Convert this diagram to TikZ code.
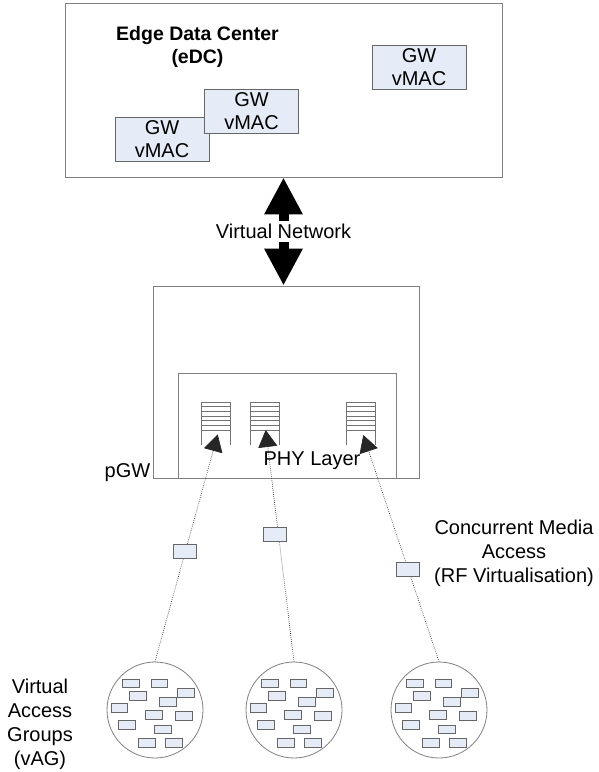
\documentclass[tikz,border=0pt]{standalone}
\usepackage{fontspec}
\setmainfont{Liberation Sans}
\usetikzlibrary{arrows.meta}
\definecolor{boxgray}{HTML}{808080}
\definecolor{lightblue}{HTML}{E6ECF7}
\definecolor{rectgray}{HTML}{666666}
\definecolor{headgray}{HTML}{262626}
\tikzset{
  stackline/.style={draw=black!55, line width=0.7pt},
  stack/.pic={
    \foreach \i in {0,...,6} \draw[stackline] (0,\i*4.7) -- (29,\i*4.7);
    \draw[stackline] (0,0) -- (0,43) (29,0) -- (29,43);
  }
}
\begin{document}
\begin{tikzpicture}[x=1pt,y=-1pt,
  txt/.style={font=\fontsize{20}{24}\selectfont, inner sep=0pt, align=center},
  bigbox/.style={draw=boxgray, line width=0.9pt, fill=white, inner sep=0pt},
  gwbox/.style={draw=rectgray, line width=1pt, fill=lightblue, font=\fontsize{20}{23}\selectfont, align=center, inner sep=0pt, minimum width=94pt, minimum height=44pt},
  chip/.style={draw=rectgray, line width=0.9pt, fill=lightblue, inner sep=0pt, minimum width=16.5pt, minimum height=8.5pt},
  link/.style={draw=rectgray, line width=0.9pt, fill=lightblue, inner sep=0pt, minimum width=23pt, minimum height=14pt},
  group/.style={circle, draw=boxgray, line width=0.8pt, fill=white, minimum size=96pt, inner sep=0pt},
  radio/.style={dash pattern=on 0.7pt off 1.3pt, draw=black!80, line width=0.7pt, -{Triangle[width=19pt,length=17pt,color=headgray,fill=headgray]}},
  vnet/.style={line width=10pt, {Triangle[width=36pt,length=37pt]}-{Triangle[width=36pt,length=37pt]}},
]
\useasboundingbox (0,0) rectangle (599,772);

% Edge data center
\node[bigbox, minimum width=437pt, minimum height=174pt] (edc) at (283.5,90) {};
\node[txt, font=\fontsize{19.5}{23}\selectfont\bfseries] (title) at (197.5,46.8) {Edge Data Center\\(eDC)};
\node[gwbox] (gw1) at (162,139.5) {GW\\vMAC};
\node[gwbox] (gw2) at (251.5,111.5) {GW\\vMAC};
\node[gwbox] (gw3) at (419,67) {GW\\vMAC};

% physical gateway
\node[bigbox, minimum width=266pt, minimum height=192pt] (pgw) at (286,382) {};
\node[bigbox, minimum width=218pt, minimum height=105pt] (phy) at (287,425.5) {};
\node[txt, anchor=base east] (pgwl) at (150.5,477) {pGW};

% virtual network
\draw[vnet] (edc.south) -- node[txt, fill=white, inner sep=3pt] (vn) {Virtual Network} (edc.south |- pgw.north);

% buffers
\pic at (201.5,402) {stack};
\pic at (250,402) {stack};
\pic at (346.5,402) {stack};
\coordinate (t1) at (217.7,434.3);
\coordinate (t2) at (265.7,430);
\coordinate (t3) at (363.3,435);

\node[txt, anchor=base] (phyl) at (312,465.7) {PHY Layer};

% access groups
\node[group] (c1) at (155,710) {};
\node[group] (c2) at (294,710) {};
\node[group] (c3) at (439,710) {};
\foreach \c in {c1,c2,c3}
  \foreach [count=\k] \dx/\dy in {-24/-26.5, 4.5/-26.5, -17/-14, 31/-17, 12.7/-8, -35.7/-2, -1/5, 29/6, -28/15, 8/19.5, -8/33, 19/33}
    \node[chip] (\c-\k) at ([shift={(\dx,\dy)}]\c.center) {};

% radio links
\draw[radio] (c1.north) -- (t1);
\draw[radio] (c2.north) -- (t2);
\draw[radio] (c3.north) -- (t3);
\node[link] (m1) at (184.5,551) {};
\node[link] (m2) at (274.8,534) {};
\node[link] (m3) at (407.5,569) {};

\node[txt] (cma) at (514,553.1) {Concurrent Media\\Access\\(RF Virtualisation)};
\node[txt] (vag) at (40,724.8) {Virtual\\Access\\Groups\\(vAG)};
\end{tikzpicture}
\end{document}
